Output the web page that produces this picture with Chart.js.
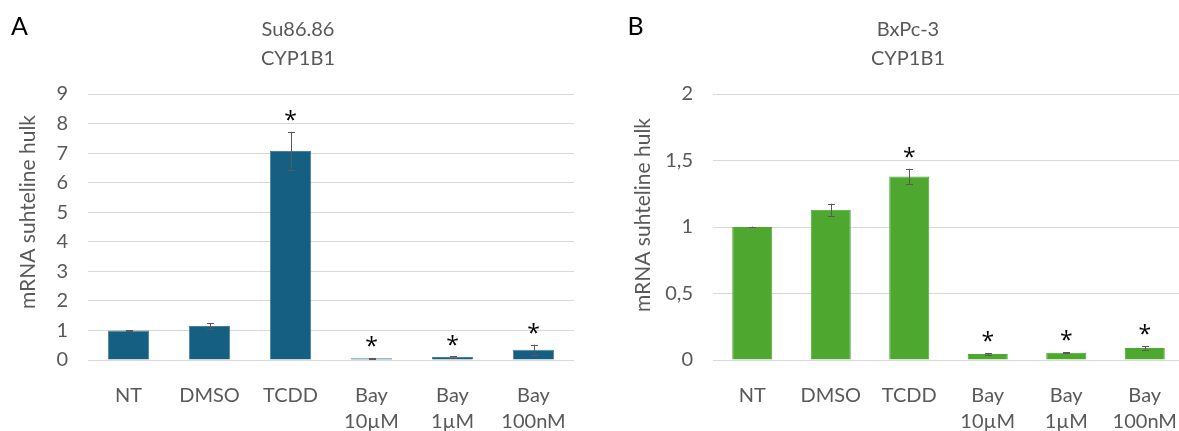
<!DOCTYPE html>
<html>
<head>
<meta charset="utf-8">
<script src="https://cdn.jsdelivr.net/npm/chart.js@4.4.1/dist/chart.umd.min.js"></script>
<style>
  html, body { margin: 0; padding: 0; background: #ffffff; }
  body { width: 1179px; height: 431px; overflow: hidden; position: relative; }
  .panel { position: absolute; top: 0; height: 431px; }
  #wrapA { left: 0; width: 596px; }
  #wrapB { left: 600px; width: 616px; }
</style>
</head>
<body>
<div class="panel" id="wrapA"><canvas id="chartA" width="596" height="431"></canvas></div>
<div class="panel" id="wrapB"><canvas id="chartB" width="616" height="431"></canvas></div>
<script>
// ---- data ----
const categories = [["NT"], ["DMSO"], ["TCDD"], ["Bay", "10µM"], ["Bay", "1µM"], ["Bay", "100nM"]];

const titleA = ["Su86.86", "CYP1B1"];
const valuesA = [1.00, 1.15, 7.07, 0.06, 0.10, 0.35];
const errorsA = [0.01, 0.10, 0.65, 0.01, 0.02, 0.17];
const signifA = [false, false, true, true, true, true];
const yTicksA = ["0", "1", "2", "3", "4", "5", "6", "7", "8", "9"];

const titleB = ["BxPc-3", "CYP1B1"];
const valuesB = [1.00, 1.13, 1.38, 0.045, 0.055, 0.09];
const errorsB = [0.003, 0.045, 0.058, 0.006, 0.004, 0.013];
const signifB = [false, false, true, true, true, true];
const yTicksB = ["0", "0,5", "1", "1,5", "2"];

const yTitle = "mRNA suhteline hulk";

// ---- styles ----
const TEXT = "#595959";
const GRID = "#d9d9d9";
const FONT = "Lato, 'Open Sans', sans-serif";

function errorStarPlugin(errors, signif) {
  return {
    id: "errStar",
    afterDatasetsDraw(chart) {
      const ctx = chart.ctx;
      const meta = chart.getDatasetMeta(0);
      const y = chart.scales.y;
      const vals = chart.data.datasets[0].data;
      ctx.save();
      meta.data.forEach((bar, i) => {
        const v = vals[i], e = errors[i];
        const yt = y.getPixelForValue(v + e);
        const yb = y.getPixelForValue(v - e);
        const x = Math.round(bar.x) + 0.5;
        ctx.strokeStyle = "#595959";
        ctx.lineWidth = 1;
        ctx.beginPath();
        ctx.moveTo(x, yt); ctx.lineTo(x, yb);
        ctx.moveTo(x - 3.5, Math.round(yt) + 0.5); ctx.lineTo(x + 3.5, Math.round(yt) + 0.5);
        ctx.moveTo(x - 3.5, Math.round(yb) + 0.5); ctx.lineTo(x + 3.5, Math.round(yb) + 0.5);
        ctx.stroke();
        if (signif[i]) {
          ctx.fillStyle = "#000000";
          ctx.font = "23px 'Open Sans', sans-serif";
          ctx.textAlign = "center";
          ctx.textBaseline = "middle";
          ctx.fillText("*", bar.x, yt - 15 + 4.5);
        }
      });
      ctx.restore();
    }
  };
}

function decorPlugin(letter, lx, ly, tx, ty) {
  return {
    id: "decor",
    afterDraw(chart) {
      const ctx = chart.ctx;
      ctx.save();
      ctx.fillStyle = "#000000";
      ctx.font = "25px " + FONT;
      ctx.textAlign = "center";
      ctx.textBaseline = "middle";
      ctx.fillText(letter, lx, ly);
      ctx.translate(tx, ty);
      ctx.rotate(-Math.PI / 2);
      ctx.fillStyle = TEXT;
      ctx.font = "21px " + FONT;
      ctx.fillText(yTitle, 0, 0);
      ctx.restore();
    }
  };
}

function makeChart(id, title, values, errors, signif, yTicks, yMax, yStep, color, border, padLeft, axisWidth, padRight, letter, lx, ly, tx, ty) {
  return new Chart(document.getElementById(id), {
    type: "bar",
    data: {
      labels: categories,
      datasets: [{
        data: values,
        backgroundColor: color,
        borderColor: border,
        borderWidth: 1,
        categoryPercentage: 1.0,
        barPercentage: 0.51
      }]
    },
    options: {
      responsive: false,
      animation: false,
      events: [],
      layout: { padding: { left: padLeft, right: padRight, top: 0, bottom: 0 } },
      plugins: {
        legend: { display: false },
        tooltip: { enabled: false },
        title: {
          display: true,
          text: title,
          color: TEXT,
          font: { family: FONT, size: 20, weight: "normal", lineHeight: 1.45 },
          padding: { top: 15, bottom: 21 }
        }
      },
      scales: {
        x: {
          grid: { display: false },
          border: { display: false },
          ticks: {
            color: TEXT,
            font: { family: FONT, size: 20, lineHeight: 1.33 },
            padding: 14,
            maxRotation: 0,
            autoSkip: false
          },
          afterFit(s) { s.height = 71; }
        },
        y: {
          min: 0,
          max: yMax,
          grid: { color: GRID, lineWidth: 1, drawTicks: false },
          border: { display: false },
          ticks: {
            stepSize: yStep,
            color: TEXT,
            font: { family: FONT, size: 20 },
            padding: 20,
            callback: (val, idx) => yTicks[idx]
          },
          afterFit(s) { s.width = axisWidth; }
        }
      }
    },
    plugins: [errorStarPlugin(errors, signif), decorPlugin(letter, lx, ly, tx, ty)]
  });
}

makeChart("chartA", titleA, valuesA, errorsA, signifA, yTicksA, 9, 1, "#156082", "#4a7f99", 22, 66, 22, "A", 19.5, 27, 28, 212);
makeChart("chartB", titleB, valuesB, errorsB, signifB, yTicksB, 2, 0.5, "#4ea72e", "#4ea72e", 32, 81, 32, "B", 35.5, 27, 43, 215);
</script>
</body>
</html>
